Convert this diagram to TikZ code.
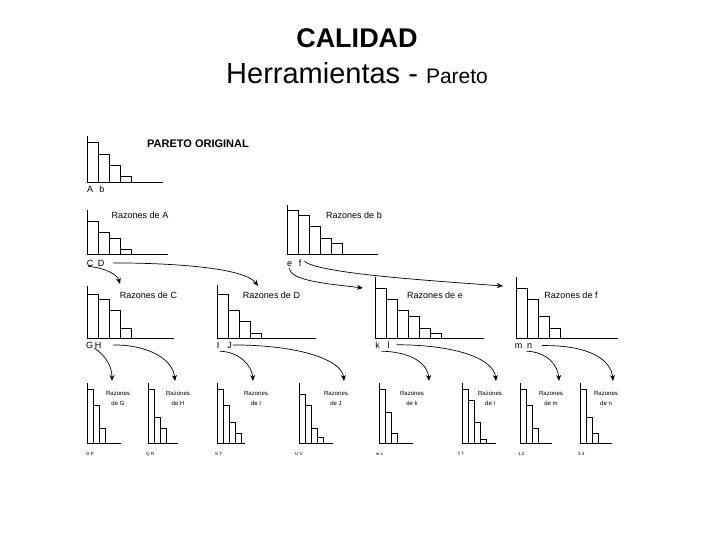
\documentclass[tikz,border=0pt]{standalone}
\usepackage{fontspec}
\setmainfont{Liberation Sans}
\usetikzlibrary{arrows.meta}

\begin{document}
\begin{tikzpicture}[x=1pt, y=-1pt, inner sep=0pt,
    frame/.style={draw=black, line width=0.8pt},
    bar/.style={draw=black, line width=0.8pt},
    link/.style={draw=black, line width=0.7pt, -{Stealth[length=6pt, width=5pt]}},
    letterlab/.style={font=\fontsize{9}{10}\selectfont, anchor=base},
    whylab/.style={font=\fontsize{9}{10}\selectfont},
    whysmall/.style={font=\fontsize{6}{10}\selectfont, align=center},
    leaflab/.style={font=\fontsize{4.5}{5}\selectfont, anchor=west},
  ]
  \useasboundingbox (0,0) rectangle (720,540);

  % title
  \node[font=\bfseries\fontsize{27}{32}\selectfont, anchor=base] (title) at (357,48) {CALIDAD};
  \node[font=\fontsize{29}{34}\selectfont, anchor=base west] (subtitle) at (226,84)
    {Herramientas - {\fontsize{21}{24}\selectfont Pareto}};
  \node[font=\bfseries\fontsize{11}{12}\selectfont] (orig) at (198,144) {PARETO ORIGINAL};

  % pareto charts: axis x / axis top / base y / base end / bar width / bar tops
  \foreach \ax/\ay/\by/\bx/\bw/\bars in {
      87/136/182/163/11/{142,154,165,176},
      87/210/254/168/11/{221,232,238,249},
      287/205/254/378/11/{210,215,226,238,243},
      87/286/338/174/11/{294,299,310,328},
      217/285/338/316/11/{294,310,321,333},
      375/277/338/484/11/{288,299,310,316,328,333},
      516/277/338/618/11/{288,299,316,328},
      87/383/443/121/6/{389,405,428},
      148/383/443/178/6/{389,417,428},
      217/383/443/245/6/{389,405,422,433},
      299/383/443/333/6/{394,405,428,437},
      379/383/443/413/6/{389,412,433},
      462/383/443/496/6/{389,400,422,439},
      520/383/443/552/6/{389,405,428},
      580/383/443/612/6/{389,417,433}} {
    \draw[frame] (\ax,\ay) -- (\ax,\by) -- (\bx,\by);
    \foreach \h [count=\i] in \bars
      \draw[bar] ({\ax+(\i-1)*\bw},\by) rectangle ({\ax+\i*\bw},\h);
  }

  % causes under each chart
  \foreach \nm/\x/\y in {A/90/193, b/102/193, C/90/266, D/101/266, e/289.5/266,
      f/300/266, G/89.5/348, H/98/348, I/218/348, J/229.5/348, k/377.5/348,
      l/388.5/348, m/518.5/348, n/529.5/348}
    \node[letterlab] (l\nm) at (\x,\y) {\nm};

  % chart titles
  \foreach \nm/\x/\y in {A/140/215, b/354/215, C/148.5/295, D/271.5/295,
      e/435/295, f/571/295}
    \node[whylab] (r\nm) at (\x,\y) {Razones de \nm};
  \foreach \nm/\x in {G/118, H/178, I/256, J/336, k/412, l/490, m/551, n/606}
    \node[whysmall] (r\nm) at (\x,398) {Razones\\de \nm};

  % last row causes
  \foreach \x/\txt [count=\i] in {86/O P, 146/Q R, 215/S T, 295/U V, 376/w x,
      458/y z, 518/1 2, 578/3 4}
    \node[leaflab] (leaf\i) at (\x,454) {\txt};

  % arrow targets
  \foreach \nm/\x/\y in {C/120/284, D/258/286, e/363/288, f/503/286, G/112/381,
      H/175/381, I/253/381, J/344/381, k/429/381, l/496/381, m/559/381, n/613/381}
    \coordinate (t\nm) at (\x,\y);

  % arrows
  \draw[link] ([xshift=-2pt]lC.south) .. controls (105,268) and (117,274) .. (tC);
  \draw[link] ([xshift=9pt]lD.east) .. controls (175,263) and (245,268) .. (tD);
  \draw[link] ([yshift=-2pt]le.south) .. controls (290,281) and (330,284) .. (te);
  \draw[link] ([xshift=3pt,yshift=-2pt]lf.north east) .. controls (318,273) and (420,280) .. (tf);
  \draw[link] (lH.south west) .. controls (105,355) and (112,366) .. (tG);
  \draw[link] ([xshift=12pt]lH.east) .. controls (150,345) and (173,360) .. (tH);
  \draw[link] ([xshift=2pt,yshift=-3pt]lI.south) .. controls (240,352) and (252,366) .. (tI);
  \draw[link] ([xshift=1pt]lJ.east) .. controls (300,345) and (342,360) .. (tJ);
  \draw[link] ([xshift=4pt,yshift=-3pt]lk.south) .. controls (415,352) and (428,366) .. (tk);
  \draw[link] ([xshift=7pt]ll.east) .. controls (460,345) and (494,360) .. (tl);
  \draw[link] ([xshift=8pt,yshift=-3pt]lm.south) .. controls (548,352) and (558,366) .. (tm);
  \draw[link] ([xshift=10pt]ln.east) .. controls (590,345) and (611,360) .. (tn);
\end{tikzpicture}
\end{document}
